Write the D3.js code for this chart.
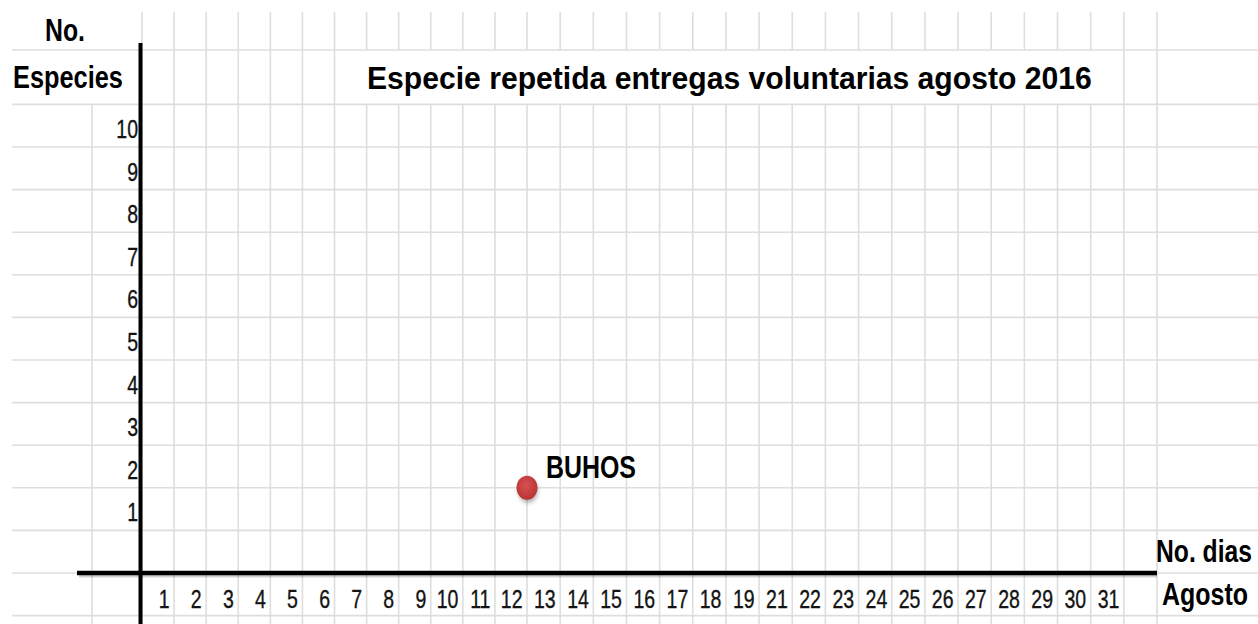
<!DOCTYPE html>
<html><head><meta charset="utf-8">
<script src="https://cdn.jsdelivr.net/npm/d3@7"></script>
<style>html,body{margin:0;padding:0;background:#fff;overflow:hidden}</style>
</head><body><svg id="c" width="1258" height="624"></svg>
<script>
// ---- data ----
const chartTitle = "Especie repetida entregas voluntarias agosto 2016";
const yAxisTitle = ["No.", "Especies"];
const xAxisTitle = ["No. dias", "Agosto"];
const dayLabels = ["1","2","3","4","5","6","7","8","9","10","11","12","13","14","15","16","17","18","19","21","22","23","24","25","26","27","28","29","30","31"];
const countTicks = [1,2,3,4,5,6,7,8,9,10];
const species = ["BUHOS"];
const speciesDay = [12];
const speciesCount = [2];

// ---- layout ----
const W = 1258, H = 624;
const svg = d3.select("#c");
const x = d3.scaleLinear().domain([0, 12, 31]).range([142, 527, 1157]);
const y = d3.scaleLinear().domain([0, 10]).range([573, 147]);
const gridColor = "#dedede";
const sheetTop = 12, titleTop = 50;

const grid = svg.append("g").attr("stroke", gridColor).attr("stroke-width", 1.6);
// horizontal grid lines
const hRows = d3.range(-1, 12).map(v => y(v)).concat([titleTop]);
grid.selectAll("line.h").data(hRows).join("line").attr("class","h")
  .attr("x1", 12).attr("x2", W).attr("y1", d => d).attr("y2", d => d);
// vertical grid lines (title merged between columns 6 and 30)
const cols = d3.range(0, 32);
cols.forEach(i => {
  const xx = x(i);
  if (i > 6 && i < 30) {
    grid.append("line").attr("x1", xx).attr("x2", xx).attr("y1", sheetTop).attr("y2", titleTop);
    grid.append("line").attr("x1", xx).attr("x2", xx).attr("y1", y(11)).attr("y2", H);
  } else {
    grid.append("line").attr("x1", xx).attr("x2", xx).attr("y1", sheetTop).attr("y2", H);
  }
});
grid.append("line").attr("x1", 92).attr("x2", 92).attr("y1", y(11)).attr("y2", H);

// ---- axes (black) ----
svg.append("line").attr("x1", 79).attr("x2", x(31)).attr("y1", y(0) + 3).attr("y2", y(0) + 3)
  .attr("stroke", "#000").attr("stroke-opacity", 0.18).attr("stroke-width", 3);
svg.append("line").attr("x1", 77).attr("x2", x(31)).attr("y1", y(0)).attr("y2", y(0))
  .attr("stroke", "#000").attr("stroke-width", 4.5);
svg.append("line").attr("x1", x(0) - 1.5).attr("x2", x(0) - 1.5).attr("y1", 43).attr("y2", H)
  .attr("stroke", "#000").attr("stroke-width", 4);

// ---- text helpers ----
function boldText(str, left, baseline, width) {
  const t = svg.append("text")
    .attr("font-family", "'Liberation Sans', Arial, sans-serif")
    .attr("font-weight", "bold").attr("font-size", 32).attr("fill", "#000")
    .text(str);
  const len = t.node().getComputedTextLength();
  t.attr("transform", `translate(${left},${baseline}) scale(${width / len},1)`);
  return t;
}
const numFont = "'Liberation Sans', Arial, sans-serif";
function numText(str, right, baseline) {
  return svg.append("text").attr("font-family", numFont).attr("font-size", 25)
    .attr("fill", "#141414").attr("stroke", "#141414").attr("stroke-width", 0.35)
    .attr("text-anchor", "end")
    .attr("transform", `translate(${right},${baseline}) scale(0.78,1)`).text(str);
}

// titles
boldText(yAxisTitle[0], 45, 41, 40);
boldText(yAxisTitle[1], 13, 88, 110);
boldText(chartTitle, 367, 89, 725);
boldText(xAxisTitle[0], 1156, 562, 96);
boldText(xAxisTitle[1], 1162, 605, 86);

// y tick labels
countTicks.forEach(v => numText(String(v), 138, y(v) - 9));
// x tick labels
dayLabels.forEach((d, i) => numText(d, x(i + 1) - 4.5, y(0) + 35));

// ---- point ----
const defs = svg.append("defs");
const grad = defs.append("radialGradient").attr("id", "dotg").attr("cx", "45%").attr("cy", "40%").attr("r", "60%");
grad.append("stop").attr("offset", "0%").attr("stop-color", "#d65050");
grad.append("stop").attr("offset", "100%").attr("stop-color", "#b83434");
const blur = defs.append("filter").attr("id", "sh").attr("x", "-50%").attr("y", "-50%").attr("width", "200%").attr("height", "200%");
blur.append("feGaussianBlur").attr("stdDeviation", 2);

species.forEach((s, i) => {
  const cx = x(speciesDay[i]), cy = y(speciesCount[i]);
  svg.append("ellipse").attr("cx", cx + 1).attr("cy", cy + 3).attr("rx", 10).attr("ry", 12)
    .attr("fill", "#000").attr("opacity", 0.3).attr("filter", "url(#sh)");
  svg.append("ellipse").attr("cx", cx).attr("cy", cy).attr("rx", 10.5).attr("ry", 12)
    .attr("fill", "url(#dotg)");
  boldText(s, cx + 19, cy - 10, 90);
});
</script></body></html>
